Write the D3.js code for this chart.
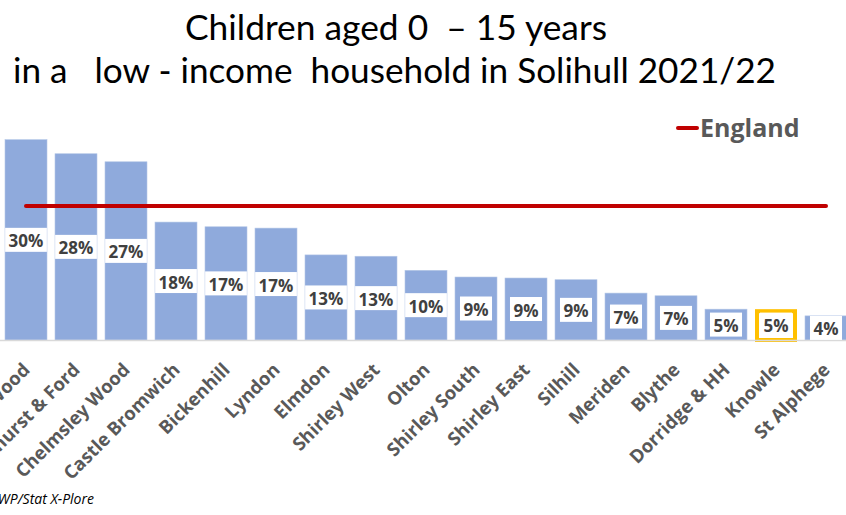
<!DOCTYPE html>
<html>
<head>
<meta charset="utf-8">
<script src="https://cdn.jsdelivr.net/npm/d3@7/dist/d3.min.js"></script>
<style>
  html, body { margin: 0; padding: 0; background: #fff; overflow: hidden; }
  svg { display: block; }
</style>
</head>
<body>
<svg id="chart" width="846" height="515"></svg>
<script>
const categories = ["Smith's Wood", "Kingshurst & Ford", "Chelmsley Wood", "Castle Bromwich", "Bickenhill", "Lyndon", "Elmdon", "Shirley West", "Olton", "Shirley South", "Shirley East", "Silhill", "Meriden", "Blythe", "Dorridge & HH", "Knowle", "St Alphege"];
const values = [29.9, 27.8, 26.6, 17.6, 16.9, 16.7, 12.7, 12.5, 10.4, 9.4, 9.25, 9.0, 7.0, 6.6, 4.6, 4.6, 3.6];
const englandValue = 20.0;
const highlighted = ["Knowle"];
const titleLines = ["Children aged 0  \u2013 15 years", "in a   low - income  household in Solihull 2021/22"];
const legendLabel = "England";
const sourceText = "Source: DWP/Stat X-Plore";

const svg = d3.select("#chart");

const x = d3.scaleBand().domain(categories).range([1, 851]).paddingInner(0.16).paddingOuter(0.08);
const y = d3.scaleLinear().domain([0, 30]).range([340, 139]);

// Title
const titleX = [[185, 607], [13, 776]];
const titleY = [40, 83];
titleLines.forEach((t, i) => {
  svg.append("text")
    .attr("x", titleX[i][0]).attr("y", titleY[i])
    .attr("textLength", titleX[i][1] - titleX[i][0])
    .attr("lengthAdjust", "spacingAndGlyphs")
    .style("white-space", "pre")
    .attr("font-family", "Lato, 'Open Sans', sans-serif")
    .attr("font-size", 34)
    .attr("fill", "#000")
    .text(t);
});

// Bars
const bars = svg.append("g");
categories.forEach((c, i) => {
  const hl = highlighted.includes(c);
  bars.append("rect")
    .attr("x", x(c) + (hl ? 2 : 0))
    .attr("y", y(values[i]) + (hl ? 2 : 0))
    .attr("width", x.bandwidth() - (hl ? 4 : 0))
    .attr("height", y(0) - y(values[i]) - (hl ? 2 : 0))
    .attr("fill", hl ? "#ffffff" : "#8FAADC")
    .attr("stroke", hl ? "#FFC000" : "#B4C7E7")
    .attr("stroke-width", hl ? 4 : 0.6);
});

// Axis line
const xAxis = d3.axisBottom(x).tickSize(0).tickPadding(0);
const axisG = svg.append("g").attr("transform", "translate(0,340)").call(xAxis);
axisG.select(".domain").attr("stroke", "#D9D9D9").attr("stroke-width", 1.5)
  .attr("d", "M0,0.5H846");
axisG.selectAll(".tick text")
  .attr("text-anchor", "end")
  .attr("font-family", "'Open Sans', sans-serif")
  .attr("font-weight", "bold")
  .attr("font-size", 18.5)
  .attr("fill", "#595959")
  .attr("dy", 0)
  .attr("y", 0)
  .attr("transform", "translate(5,31) rotate(-45)");

// England line
svg.append("line")
  .attr("x1", x(categories[0]) + x.bandwidth() / 2)
  .attr("x2", x(categories[categories.length - 1]) + x.bandwidth() / 2)
  .attr("y1", y(englandValue)).attr("y2", y(englandValue))
  .attr("stroke", "#C00000").attr("stroke-width", 4).attr("stroke-linecap", "round");

// Data labels
const labels = svg.append("g");
categories.forEach((c, i) => {
  const cx = x(c) + x.bandwidth() / 2;
  const cy = (y(values[i]) + y(0)) / 2;
  const txt = Math.round(values[i]) + "%";
  const t = labels.append("text")
    .attr("x", cx).attr("y", cy + 1)
    .attr("text-anchor", "middle")
    .attr("dominant-baseline", "central")
    .attr("font-family", "'Open Sans', sans-serif")
    .attr("font-weight", "bold")
    .attr("font-size", 17)
    .attr("fill", "#404040")
    .text(txt);
  const bb = t.node().getBBox();
  labels.insert("rect", "text")
    .attr("x", cx - bb.width / 2 - 3.5)
    .attr("y", cy - 12)
    .attr("width", bb.width + 7)
    .attr("height", 24)
    .attr("fill", "#fff");
});

// Legend
svg.append("line")
  .attr("x1", 678).attr("x2", 697).attr("y1", 128).attr("y2", 128)
  .attr("stroke", "#C00000").attr("stroke-width", 4).attr("stroke-linecap", "round");
svg.append("text")
  .attr("x", 700).attr("y", 137)
  .attr("font-family", "'Open Sans', sans-serif")
  .attr("font-weight", "bold")
  .attr("font-size", 25)
  .attr("fill", "#595959")
  .text(legendLabel);

// Source
svg.append("text")
  .attr("x", 94).attr("y", 504)
  .attr("text-anchor", "end")
  .attr("font-family", "'Open Sans', sans-serif")
  .attr("font-style", "italic")
  .attr("font-size", 14)
  .attr("fill", "#000")
  .text(sourceText);
</script>
</body>
</html>
